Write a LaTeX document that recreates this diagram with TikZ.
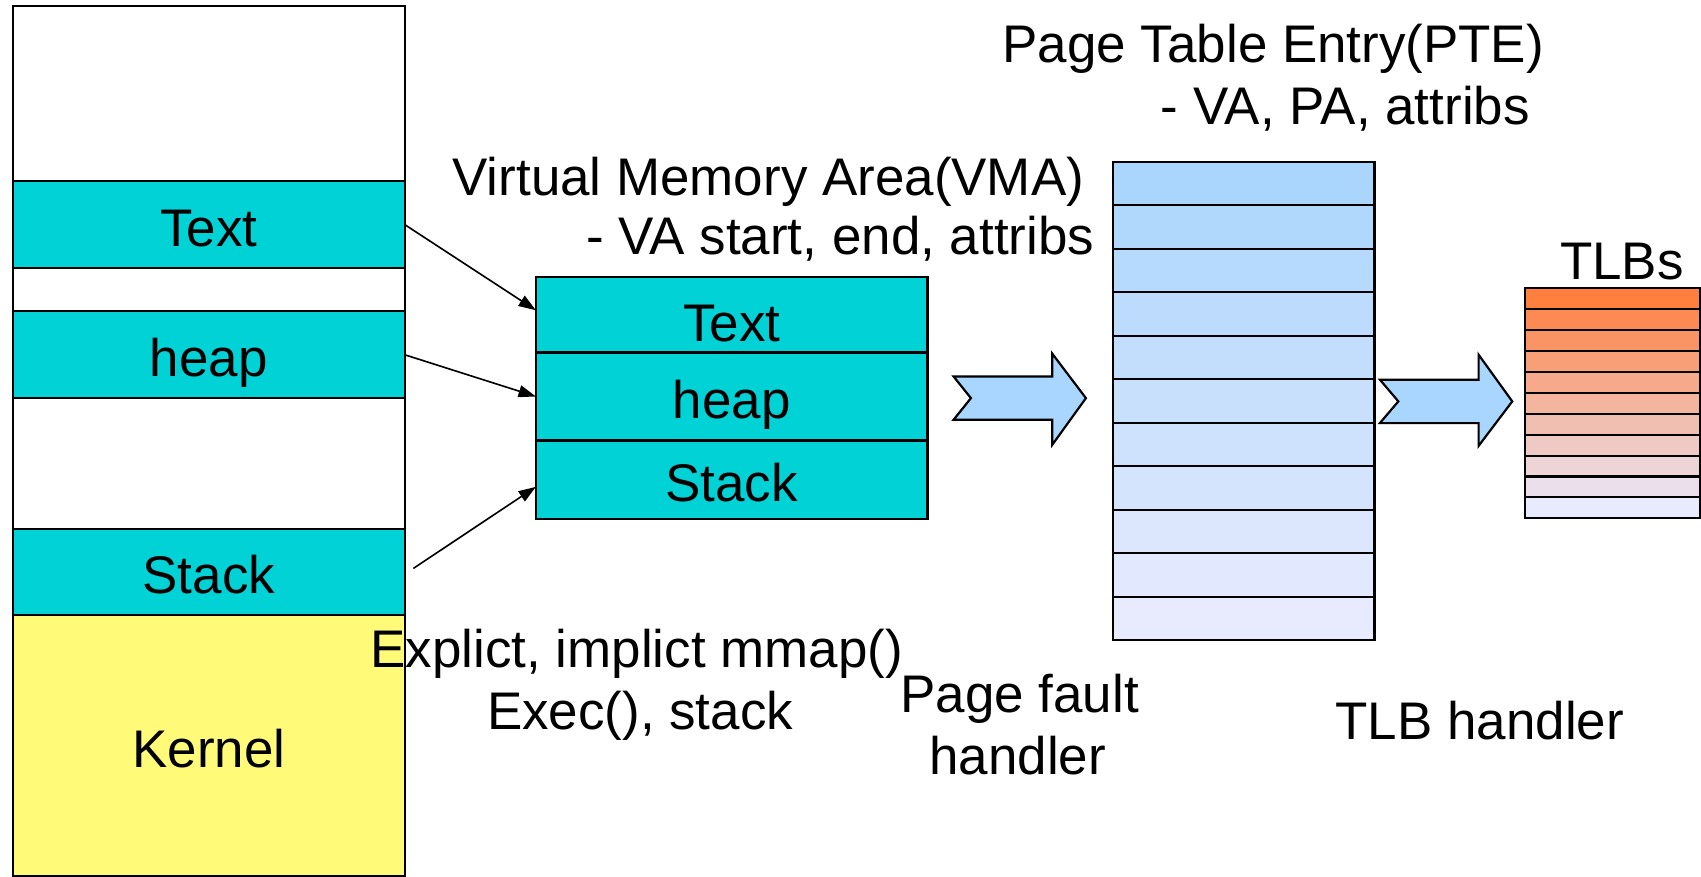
\documentclass[tikz,border=0pt]{standalone}
\usepackage{fontspec}
\setmainfont{Liberation Sans}
\usetikzlibrary{positioning,arrows.meta}

\definecolor{segcyan}{RGB}{0,210,214}
\definecolor{kernelyellow}{RGB}{255,250,120}
\definecolor{arrowblue}{RGB}{168,214,255}
\definecolor{ptetop}{RGB}{170,214,253}
\definecolor{ptebot}{RGB}{232,234,253}
\definecolor{tlbtop}{RGB}{255,127,63}
\definecolor{tlbbot}{RGB}{232,234,253}

\begin{document}
\begin{tikzpicture}[
    x=1pt, y=-1pt,
    font=\fontsize{48.8}{57}\selectfont,
    box/.style={rectangle, draw, line width=2pt, inner sep=0pt, outer sep=0pt, anchor=north west},
    seg/.style={box, fill=segcyan, minimum width=361pt, minimum height=80pt, text height=40pt, text depth=0pt},
    vmarow/.style={box, fill=segcyan, minimum width=361pt, anchor=north, text height=40pt, text depth=0pt},
    pterow/.style={box, minimum width=241pt, minimum height=40.1pt},
    tlbrow/.style={box, minimum width=161pt, minimum height=19.27pt},
    arrow/.style={-{Triangle[length=16pt, width=11pt]}, line width=1.5pt},
    bigarrow/.style={draw, line width=2pt, fill=arrowblue, line join=miter},
    textline/.style={anchor=base west, inner sep=0pt}
]
\useasboundingbox (0,0) rectangle (1568,808);

% Address space column
\node[box, fill=white, minimum width=361pt, minimum height=802.5pt] (addr) at (12,5.5) {};
\node[seg] (seg_text) at (12,167) {Text};
\node[seg] (seg_heap) at (12,287) {heap};
\node[seg, minimum height=79pt] (seg_stack) at (12,488) {Stack};
\node[box, fill=kernelyellow, minimum width=361pt, minimum height=241pt, text height=40pt, text depth=0pt] (seg_kernel) at (12,567) {Kernel};

% VMA list
\node[vmarow, minimum height=70pt, text height=50pt] (vma_text) at (674.5,255) {Text};
\node[vmarow, minimum height=81pt, below=0pt of vma_text] (vma_heap) {heap};
\node[vmarow, minimum height=72.5pt, below=0pt of vma_heap] (vma_stack) {Stack};

% Page table
\foreach \i in {1,...,11}{
  \pgfmathtruncatemacro{\mix}{(\i-1)*10}
  \node[pterow, fill=ptebot!\mix!ptetop] (pte\i) at (1026,{149+(\i-1)*40.1}) {};
}

% TLBs
\foreach \i in {1,...,11}{
  \pgfmathtruncatemacro{\mix}{(\i-1)*10}
  \node[tlbrow, fill=tlbbot!\mix!tlbtop] (tlb\i) at (1406,{265.8+(\i-1)*19.27}) {};
}

% Mapping arrows
\draw[arrow] (seg_text.east) -- ([yshift=4pt]vma_text.west);
\draw[arrow] (seg_heap.east) -- (vma_heap.west);
\draw[arrow] ([xshift=8pt, yshift=3.5pt]seg_stack.east) -- ([yshift=-6.5pt]vma_stack.west);

% Block arrows
\draw[bigarrow] (879,347) -- (970,347) -- (970,326) -- (1001,367) -- (970,410)
    -- (970,387) -- (879,387) -- (895,367) -- cycle;
\draw[bigarrow] (1272,350) -- (1363,350) -- (1363,327) -- (1394,370) -- (1363,411)
    -- (1363,390) -- (1272,390) -- (1289,370) -- cycle;

% Labels
\node[textline] (pte_title) at (924,58) {Page Table Entry(PTE)};
\node[textline] (pte_sub) at (1070,115) {- VA, PA, attribs};
\node[textline] (vma_title) at (417,180) {Virtual Memory Area(VMA)};
\node[textline] (vma_sub) at (540,235) {- VA start, end, attribs};
\node[textline] (tlb_title) at (1438,258) {TLBs};
\node[textline, anchor=base] (mmap_note) at (587,615) {Explict, implict mmap()};
\node[textline, anchor=base] (exec_note) at (590,672) {Exec(), stack};
\node[textline, anchor=base] (pf_label) at (940,657) {Page fault};
\node[textline, anchor=base] (pf_label2) at (938,714) {handler};
\node[textline, anchor=base] (tlbh_label) at (1364,682) {TLB handler};

\end{tikzpicture}
\end{document}
